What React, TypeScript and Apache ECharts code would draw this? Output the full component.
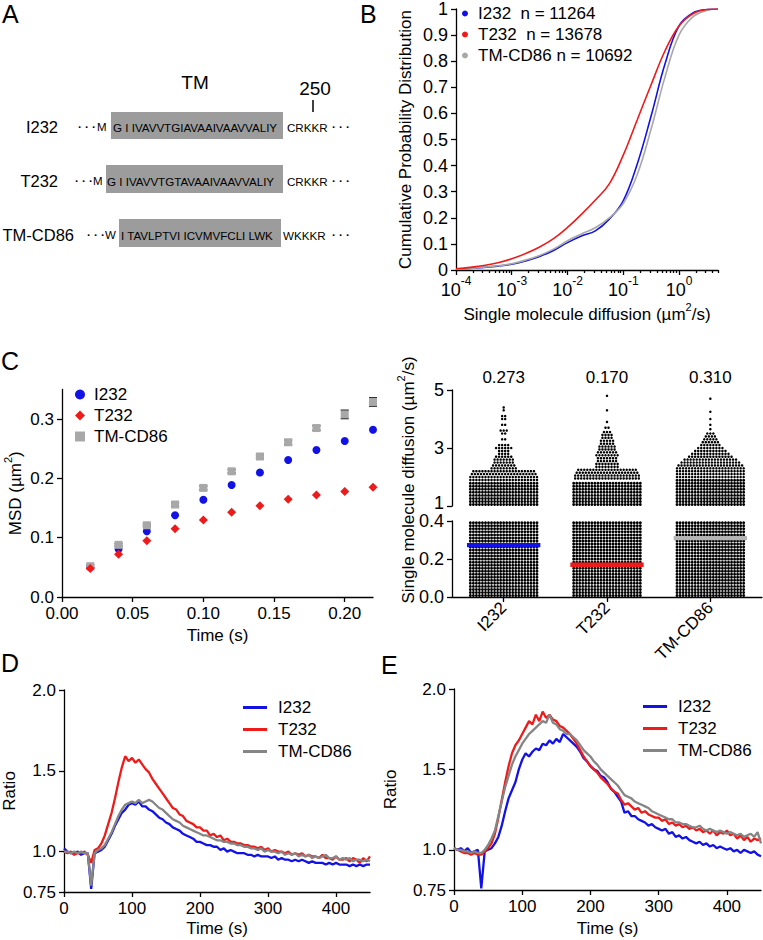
import React, { useEffect, useRef } from 'react';
import * as echarts from 'echarts';

const FONT = "'Liberation Sans', Arial, Helvetica, sans-serif";
const BLUE = '#1212e6';
const RED = '#ee1b1b';
const LGRAY = '#a8a8a8';
const DGRAY = '#858585';

// ---------------- Panel A (sequence alignment) ----------------
const seqLabels = ['I232', 'T232', 'TM-CD86'];
const seqLead = ['M', 'M', 'W'];
const seqTM = ['G I IVAVVTGIAVAAIVAAVVALIY', 'G I IVAVVTGTAVAAIVAAVVALIY', 'I TAVLPTVI ICVMVFCLI LWK'];
const seqTail = ['CRKKR', 'CRKKR', 'WKKKR'];
const seqTitle = 'TM';
const seqMarker = '250';

// ---------------- Panel B (CDF, x in log10 units) ----------------
const cdfLogX = [-4, -3.75, -3.5, -3.25, -3, -2.75, -2.5, -2.25, -2, -1.75, -1.5, -1.25, -1, -0.75, -0.5, -0.25, 0, 0.25, 0.5, 0.7];
const cdfI232 = [0.003, 0.006, 0.01, 0.015, 0.022, 0.035, 0.052, 0.075, 0.105, 0.13, 0.15, 0.195, 0.265, 0.405, 0.59, 0.79, 0.935, 0.985, 0.998, 1.0];
const cdfT232 = [0.005, 0.01, 0.017, 0.028, 0.043, 0.063, 0.088, 0.12, 0.163, 0.213, 0.268, 0.33, 0.44, 0.575, 0.71, 0.84, 0.935, 0.982, 0.998, 1.0];
const cdfCD86 = [0.003, 0.006, 0.011, 0.016, 0.024, 0.038, 0.056, 0.08, 0.112, 0.138, 0.162, 0.2, 0.255, 0.365, 0.54, 0.74, 0.9, 0.97, 0.995, 1.0];
const cdfNames = ['I232  n = 11264', 'T232  n = 13678', 'TM-CD86 n = 10692'];
const cdfDecades = [-4, -3, -2, -1, 0];

// ---------------- Panel C left (MSD) ----------------
const groupNames = ['I232', 'T232', 'TM-CD86'];
const msdTime = [0.02, 0.04, 0.06, 0.08, 0.1, 0.12, 0.14, 0.16, 0.18, 0.2, 0.22];
const msdI232 = [0.05, 0.081, 0.111, 0.138, 0.164, 0.189, 0.21, 0.231, 0.248, 0.263, 0.282];
const msdT232 = [0.048, 0.072, 0.095, 0.115, 0.13, 0.143, 0.154, 0.165, 0.172, 0.178, 0.185];
const msdCD86 = [0.052, 0.088, 0.121, 0.156, 0.184, 0.212, 0.237, 0.261, 0.285, 0.308, 0.329];
const msdCD86Err = [0.002, 0.002, 0.002, 0.003, 0.003, 0.003, 0.003, 0.004, 0.004, 0.007, 0.007];
const msdXTicks = [0, 0.05, 0.1, 0.15, 0.2];
const msdYTicks = [0, 0.1, 0.2, 0.3];

// ---------------- Panel C right (dot plot) ----------------
const swarmMeans = [0.273, 0.17, 0.31];
const swarmUpperTicks = [1, 3, 5];
// dense bands: [from, to, dots across]
const i232LowBands = [[0, 0.4, 23]];
const t232LowBands = [[0, 0.4, 23]];
const cd86LowBands = [[0, 0.4, 23]];
const i232HighBands = [[1.0, 1.8, 23]];
const t232HighBands = [[1.0, 1.85, 23]];
const cd86HighBands = [[1.0, 1.9, 23]];
// sparse rows: [value, dots across]
const i232Rows = [[1.9, 23], [2.0, 23], [2.1, 22], [2.2, 21], [2.3, 9], [2.4, 8], [2.5, 7], [2.6, 7], [2.7, 6], [2.8, 4], [2.9, 4], [3.0, 6], [3.1, 4], [3.3, 2], [3.5, 2], [3.6, 3], [3.8, 2], [4.0, 2], [4.1, 2], [4.3, 1], [4.4, 1]];
const t232Rows = [[1.95, 22], [2.05, 22], [2.15, 21], [2.25, 20], [2.35, 8], [2.45, 8], [2.55, 7], [2.65, 7], [2.75, 8], [2.85, 7], [2.95, 6], [3.05, 6], [3.15, 5], [3.25, 5], [3.35, 4], [3.45, 4], [3.55, 3], [3.7, 2], [3.9, 1], [4.3, 1], [4.8, 1]];
const cd86Rows = [[2.0, 23], [2.1, 23], [2.2, 23], [2.3, 23], [2.4, 22], [2.5, 20], [2.6, 18], [2.7, 15], [2.8, 13], [2.9, 11], [3.0, 9], [3.1, 7], [3.2, 6], [3.3, 5], [3.4, 4], [3.5, 3], [3.65, 1], [3.8, 1], [4.0, 1], [4.25, 1], [4.7, 1]];
const swarmLow = [i232LowBands, t232LowBands, cd86LowBands];
const swarmHigh = [i232HighBands, t232HighBands, cd86HighBands];
const swarmRows = [i232Rows, t232Rows, cd86Rows];

// ---------------- Panels D & E (ratio time courses, 5 s sampling) ----------------
const tsStep = 5;
const dI232 = [
  1.02, 1.0, 0.99, 0.99, 1.0, 0.98, 0.99, 0.99, 0.77, 0.99,
  1.0, 1.01, 1.03, 1.07, 1.11, 1.16, 1.2, 1.24, 1.26, 1.29,
  1.3, 1.29, 1.31, 1.28, 1.28, 1.26, 1.25, 1.23, 1.21, 1.2,
  1.18, 1.17, 1.15, 1.14, 1.13, 1.11, 1.1, 1.09, 1.08, 1.06,
  1.06, 1.05, 1.04, 1.04, 1.03, 1.03, 1.01, 1.02, 1.0, 1.01,
  1.0, 0.99, 0.99, 0.99, 0.98, 0.98, 0.97, 0.98, 0.97, 0.97,
  0.97, 0.96, 0.97, 0.95, 0.96, 0.95, 0.95, 0.94, 0.95, 0.94,
  0.95, 0.94, 0.93, 0.94, 0.93, 0.93, 0.93, 0.92, 0.93, 0.92,
  0.93, 0.92, 0.92, 0.92, 0.91, 0.92, 0.91, 0.92, 0.91, 0.92,
  0.92,
];
const dT232 = [
  1.0, 0.99, 1.0, 0.98, 0.99, 0.99, 1.0, 0.98, 0.93, 1.01,
  1.02, 1.05, 1.1, 1.17, 1.24, 1.33, 1.43, 1.52, 1.59, 1.56,
  1.58, 1.55, 1.57, 1.54, 1.51, 1.49, 1.45, 1.42, 1.39, 1.36,
  1.33, 1.3, 1.27, 1.26, 1.23, 1.22, 1.19, 1.18, 1.17, 1.15,
  1.15, 1.13, 1.13, 1.1, 1.11, 1.09, 1.1, 1.07, 1.08, 1.06,
  1.06, 1.05, 1.05, 1.04, 1.04, 1.03, 1.03, 1.02, 1.03, 1.01,
  1.02, 1.0, 1.01, 1.0, 1.0, 0.99, 1.0, 0.98, 0.99, 0.98,
  0.99, 0.97, 0.98, 0.97, 0.97, 0.96, 0.98, 0.96, 0.96, 0.95,
  0.97, 0.95, 0.95, 0.96, 0.94, 0.96, 0.95, 0.93, 0.96, 0.94,
  0.97,
];
const dCD86 = [
  1.0, 1.0, 0.99, 1.0, 0.99, 1.0, 0.99, 0.99, 0.79, 0.99,
  1.01, 1.02, 1.04, 1.08, 1.12, 1.17, 1.22, 1.26, 1.29, 1.3,
  1.31, 1.3, 1.32, 1.3, 1.31, 1.32, 1.31, 1.29, 1.27, 1.26,
  1.24, 1.22, 1.2, 1.19, 1.18, 1.16, 1.15, 1.14, 1.13, 1.12,
  1.11, 1.1, 1.1, 1.09, 1.08, 1.07, 1.07, 1.06, 1.06, 1.05,
  1.05, 1.04, 1.04, 1.03, 1.03, 1.02, 1.02, 1.01, 1.02, 1.0,
  1.01, 1.0, 1.0, 0.99, 1.0, 0.98, 0.99, 0.98, 0.99, 0.97,
  0.98, 0.97, 0.98, 0.96, 0.97, 0.96, 0.97, 0.98, 0.96, 0.96,
  0.97, 0.95, 0.96, 0.95, 0.96, 0.94, 0.95, 0.95, 0.94, 0.95,
  0.94,
];
const eI232 = [
  1.01, 1.0, 1.01, 0.99, 1.01, 0.98, 0.99, 1.0, 0.76, 0.99,
  1.0, 1.01, 1.04, 1.08, 1.15, 1.24, 1.32, 1.37, 1.42, 1.5,
  1.56, 1.6, 1.58, 1.61, 1.63, 1.62, 1.66, 1.65, 1.68, 1.66,
  1.69, 1.67, 1.72, 1.7, 1.68, 1.66, 1.64, 1.61, 1.57, 1.55,
  1.52, 1.5, 1.49, 1.46, 1.45, 1.42, 1.38, 1.36, 1.33, 1.3,
  1.23, 1.24, 1.21, 1.21, 1.19, 1.18, 1.17, 1.15, 1.16, 1.14,
  1.13, 1.12, 1.13, 1.1, 1.11, 1.08, 1.09, 1.07, 1.08, 1.06,
  1.05, 1.04, 1.05, 1.03, 1.04, 1.02, 1.03, 1.01, 1.02, 1.01,
  1.0, 1.01, 0.99, 1.0, 0.98, 1.0, 0.99, 0.98, 0.99, 0.97,
  0.96,
];
const eT232 = [
  1.01, 1.0, 0.99, 0.98, 0.98, 0.97, 0.98, 0.97, 0.97, 0.99,
  1.01, 1.04, 1.1, 1.2, 1.31, 1.42, 1.52, 1.6, 1.65, 1.68,
  1.72, 1.76, 1.8, 1.78, 1.84, 1.8, 1.86, 1.82, 1.84, 1.81,
  1.8, 1.77, 1.76, 1.74, 1.72, 1.69, 1.66, 1.62, 1.58, 1.55,
  1.52, 1.5, 1.48, 1.45, 1.43, 1.41, 1.38, 1.36, 1.35, 1.31,
  1.28, 1.29, 1.27, 1.25, 1.26, 1.23, 1.24, 1.22, 1.21, 1.2,
  1.2, 1.18, 1.19, 1.16, 1.17, 1.15, 1.16, 1.14, 1.15, 1.13,
  1.14, 1.12, 1.13, 1.11, 1.12, 1.1, 1.12, 1.09, 1.11, 1.1,
  1.12, 1.09, 1.1, 1.07, 1.09, 1.06, 1.08, 1.05, 1.07, 1.06,
  1.07,
];
const eCD86 = [
  1.01, 1.0, 1.0, 0.99, 0.99, 0.98, 0.99, 0.98, 0.98, 1.0,
  1.03, 1.07, 1.12, 1.21, 1.3, 1.39, 1.46, 1.53, 1.58, 1.62,
  1.66, 1.69, 1.72, 1.74, 1.76, 1.78, 1.8, 1.79, 1.84, 1.79,
  1.78, 1.75, 1.74, 1.72, 1.72, 1.7, 1.68, 1.65, 1.62, 1.6,
  1.58, 1.55, 1.53, 1.5, 1.48, 1.46, 1.44, 1.42, 1.4, 1.37,
  1.34, 1.33, 1.32, 1.3, 1.29, 1.28, 1.27, 1.26, 1.24, 1.23,
  1.22, 1.21, 1.2, 1.19, 1.19, 1.17, 1.17, 1.16, 1.16, 1.15,
  1.14, 1.14, 1.15, 1.13, 1.12, 1.13, 1.12, 1.11, 1.12, 1.11,
  1.1, 1.11, 1.1, 1.09, 1.1, 1.08, 1.09, 1.1, 1.08, 1.11,
  1.04,
];
const ratioXTicks = [0, 100, 200, 300, 400];
const ratioYTicks = [0.75, 1.0, 1.5, 2.0];

// ---------------- helpers ----------------
const axisLine = { show: true, onZero: false, lineStyle: { color: '#000', width: 1.3 } };
const tick = (vals?: number[], len = 5) => ({
  show: true,
  length: len,
  lineStyle: { color: '#000', width: 1.3 },
  ...(vals ? { customValues: vals } : {}),
});
const label = (extra: any = {}) => ({ color: '#000', fontSize: 17, fontFamily: FONT, ...extra });
const noSplit = { show: false };
const supRich = {
  a: { fontSize: 17, fontFamily: FONT, color: '#000', lineHeight: 22, verticalAlign: 'bottom' },
  s: { fontSize: 11, fontFamily: FONT, color: '#000', verticalAlign: 'top' },
};
const nameStyle = { fontSize: 17, fontFamily: FONT, color: '#000', rich: supRich };

const txt = (text: string, x: number, y: number, fontSize: number, align = 'left', extra: any = {}) => ({
  type: 'text',
  x,
  y,
  silent: true,
  style: {
    text,
    fontSize,
    fontFamily: FONT,
    fill: '#000',
    align,
    verticalAlign: 'middle',
    textAlign: align,
    textVerticalAlign: 'middle',
    ...extra,
  },
});

function buildGraphic() {
  const els: any[] = [];
  // panel letters
  els.push(txt('A', 2, 14, 25));
  els.push(txt('B', 360, 14, 25));
  els.push(txt('C', 1, 361, 25));
  els.push(txt('D', 1, 663, 25));
  els.push(txt('E', 381, 665, 25));
  // panel A
  const rowY = [127, 181, 235];
  const labelRight = [58, 58, 74];
  const dotsLeft = [78, 75, 87];
  const leadLeft = [97, 93, 105];
  const box = [
    [111, 112, 172, 27],
    [106, 165, 177, 28],
    [119, 219, 162, 28],
  ];
  const seqLeft = [113, 107, 121];
  const tailLeft = [287, 287, 283];
  els.push(txt(seqTitle, 195, 82, 19, 'center'));
  els.push(txt(seqMarker, 315, 88, 19, 'center'));
  els.push({ type: 'line', silent: true, shape: { x1: 313, y1: 100, x2: 313, y2: 112 }, style: { stroke: '#000', lineWidth: 1.5 } });
  seqLabels.forEach((lab, i) => {
    const b = box[i];
    els.push({ type: 'rect', silent: true, shape: { x: b[0], y: b[1], width: b[2], height: b[3] }, style: { fill: '#9c9c9c' } });
    els.push(txt(lab, labelRight[i], rowY[i], 16.5, 'right'));
    els.push(txt('· · ·', dotsLeft[i], rowY[i], 11.5, 'left', { fontWeight: 'bold' }));
    els.push(txt(seqLead[i], leadLeft[i], rowY[i], 11.5));
    els.push(txt(seqTM[i], seqLeft[i], rowY[i], 11.6));
    els.push(txt(seqTail[i], tailLeft[i], rowY[i], 11.6));
    els.push(txt('· · ·', 332, rowY[i], 11.5, 'left', { fontWeight: 'bold' }));
  });
  // panel C right y-axis name (spans the broken axis)
  els.push({
    type: 'text',
    x: 406,
    y: 480,
    rotation: Math.PI / 2,
    silent: true,
    style: {
      text: '{a|Single molecule diffusion (µm}{s|2}{a|/s)}',
      rich: supRich,
      fontFamily: FONT,
      align: 'center',
      verticalAlign: 'middle',
      textAlign: 'center',
      textVerticalAlign: 'middle',
    },
  });
  return els;
}

function swarmRenderer(bands: number[][][], rows: number[][][]) {
  return (params: any, api: any) => {
    const c = params.dataIndex;
    const bandW = api.size([1, 0])[0];
    const step = (bandW * 0.645) / 22;
    const cx = api.coord([c, 0])[0];
    const children: any[] = [];
    const addRow = (py: number, n: number, r: number) => {
      for (let k = 0; k < n; k++) {
        const px = cx + (k - (n - 1) / 2) * step;
        children.push({ type: 'circle', shape: { cx: px, cy: py, r }, style: { fill: '#000' } });
      }
    };
    (bands[c] || []).forEach(([from, to, n]) => {
      const y0 = api.coord([c, from])[1];
      const y1 = api.coord([c, to])[1];
      for (let py = y0 - step / 2; py >= y1 - 0.5; py -= step) addRow(py, n, 1.45);
    });
    (rows[c] || []).forEach(([v, n]) => addRow(api.coord([c, v])[1], n, 1.25));
    return { type: 'group', children };
  };
}

function buildOption() {
  const minorLog: number[] = [];
  cdfDecades.forEach((d) => {
    for (let k = 2; k <= 9; k++) {
      const v = d + Math.log10(k);
      if (v <= 0.7) minorLog.push(v);
    }
  });
  const pair = (xs: number[], ys: number[]) => xs.map((x, i) => [x, ys[i]]);
  const ts = (ys: number[]) => ys.map((y, i) => [i * tsStep, y]);
  const meanColors = [BLUE, RED, '#b4b4b4'];

  const grid = [
    { left: 456, top: 8, width: 262, height: 262 },
    { left: 62, top: 389.5, width: 311, height: 207.5 },
    { left: 452, top: 390, width: 310, height: 116 },
    { left: 452, top: 521, width: 310, height: 76 },
    { left: 63, top: 690, width: 307, height: 202 },
    { left: 454, top: 689, width: 307, height: 201 },
  ];

  const ratioYLabel = label({
    customValues: ratioYTicks,
    formatter: (v: number) => (Math.abs(v - 0.75) < 1e-6 ? '0.75' : v.toFixed(1)),
  });

  // the "1" label of the upper (broken) axis is lifted slightly so it clears "0.4"
  const upperLabelPos = swarmUpperTicks.map((v) => (v === 1 ? 1.12 : v));

  const xAxis: any[] = [
    {
      gridIndex: 0, type: 'value', min: -4, max: 0.7, position: 'bottom',
      axisLine, axisTick: tick(cdfDecades), splitLine: noSplit,
      axisLabel: {
        customValues: cdfDecades,
        margin: 5,
        formatter: (v: number) => `{b|10}{s|${Math.round(v)}}`,
        rich: {
          b: { fontSize: 18, fontFamily: FONT, color: '#000', lineHeight: 24, verticalAlign: 'bottom' },
          s: { fontSize: 12, fontFamily: FONT, color: '#000', verticalAlign: 'top' },
        },
      },
      name: '{a|Single molecule diffusion (µm}{s|2}{a|/s)}',
      nameLocation: 'middle', nameGap: 31, nameTextStyle: nameStyle,
    },
    {
      gridIndex: 0, type: 'value', min: -4, max: 0.7, position: 'bottom',
      axisLine: { show: false, onZero: false }, axisLabel: { show: false }, splitLine: noSplit,
      axisTick: tick(minorLog, 3),
    },
    {
      gridIndex: 1, type: 'value', min: 0, max: 0.22,
      axisLine, axisTick: tick(msdXTicks), splitLine: noSplit,
      axisLabel: label({ customValues: msdXTicks, formatter: (v: number) => v.toFixed(2) }),
      name: 'Time (s)', nameLocation: 'middle', nameGap: 30, nameTextStyle: nameStyle,
    },
    { gridIndex: 2, type: 'category', data: groupNames, show: false },
    {
      gridIndex: 3, type: 'category', data: groupNames,
      axisLine, axisTick: { ...tick(), alignWithLabel: true },
      axisLabel: label({ rotate: 45, margin: 8 }),
    },
    {
      gridIndex: 4, type: 'value', min: 0, max: 450,
      axisLine, axisTick: tick(ratioXTicks), splitLine: noSplit,
      axisLabel: label({ customValues: ratioXTicks }),
      name: 'Time (s)', nameLocation: 'middle', nameGap: 28, nameTextStyle: nameStyle,
    },
    {
      gridIndex: 5, type: 'value', min: 0, max: 450,
      axisLine, axisTick: tick(ratioXTicks), splitLine: noSplit,
      axisLabel: label({ customValues: ratioXTicks }),
      name: 'Time (s)', nameLocation: 'middle', nameGap: 30, nameTextStyle: nameStyle,
    },
  ];

  const yAxis: any[] = [
    {
      gridIndex: 0, type: 'value', min: 0, max: 1, interval: 0.1,
      axisLine, axisTick: tick(), splitLine: noSplit,
      axisLabel: label({ fontSize: 18 }),
      name: 'Cumulative Probability Distribution', nameLocation: 'middle', nameGap: 42, nameTextStyle: nameStyle,
    },
    {
      gridIndex: 1, type: 'value', min: 0, max: 0.35,
      axisLine, axisTick: tick(msdYTicks), splitLine: noSplit,
      axisLabel: label({ customValues: msdYTicks, formatter: (v: number) => v.toFixed(1) }),
      name: '{a|MSD (µm}{s|2}{a|)}', nameLocation: 'middle', nameGap: 38, nameTextStyle: nameStyle,
    },
    {
      gridIndex: 2, type: 'value', min: 1, max: 5,
      axisLine, axisTick: tick(swarmUpperTicks), splitLine: noSplit,
      axisLabel: label({
        customValues: upperLabelPos, fontSize: 18, lineHeight: 14,
        formatter: (v: number) => String(Math.round(v)),
      }),
    },
    {
      gridIndex: 3, type: 'value', min: 0, max: 0.4, interval: 0.2,
      axisLine, axisTick: tick(), splitLine: noSplit,
      axisLabel: label({ fontSize: 18, lineHeight: 14, formatter: (v: number) => v.toFixed(1) }),
    },
    {
      gridIndex: 4, type: 'value', min: 0.75, max: 2.0,
      axisLine, axisTick: tick(ratioYTicks), splitLine: noSplit, axisLabel: ratioYLabel,
      name: 'Ratio', nameLocation: 'middle', nameGap: 46, nameTextStyle: nameStyle,
    },
    {
      gridIndex: 5, type: 'value', min: 0.75, max: 2.0,
      axisLine, axisTick: tick(ratioYTicks), splitLine: noSplit, axisLabel: ratioYLabel,
      name: 'Ratio', nameLocation: 'middle', nameGap: 55, nameTextStyle: nameStyle,
    },
  ];

  const cdfLine = (name: string, ys: number[], color: string) => ({
    type: 'line', name, xAxisIndex: 0, yAxisIndex: 0, data: pair(cdfLogX, ys),
    smooth: 0.4, showSymbol: false, symbol: 'circle',
    itemStyle: { color }, lineStyle: { color, width: 1.6 }, silent: true,
  });
  const msdScatter = (name: string, ys: number[], color: string, symbol: string, size: number) => ({
    type: 'scatter', name, xAxisIndex: 2, yAxisIndex: 1, data: pair(msdTime, ys),
    symbol, symbolSize: size, itemStyle: { color, opacity: 1 }, silent: true,
  });
  const ratioLine = (name: string, ys: number[], color: string, xi: number, yi: number) => ({
    type: 'line', name, xAxisIndex: xi, yAxisIndex: yi, data: ts(ys),
    showSymbol: false, symbol: 'none', itemStyle: { color }, lineStyle: { color, width: 2.3 }, silent: true,
  });

  const series: any[] = [
    cdfLine(cdfNames[0], cdfI232, BLUE),
    cdfLine(cdfNames[2], cdfCD86, LGRAY),
    cdfLine(cdfNames[1], cdfT232, RED),
    {
      type: 'custom', name: 'msd-err', xAxisIndex: 2, yAxisIndex: 1, silent: true,
      data: msdTime.map((t, i) => [t, msdCD86[i], msdCD86Err[i]]),
      renderItem: (params: any, api: any) => {
        const t = api.value(0), v = api.value(1), e = api.value(2);
        const top = api.coord([t, v + e]);
        const bot = api.coord([t, v - e]);
        const st = { stroke: '#222', lineWidth: 1.5 };
        return {
          type: 'group',
          children: [
            { type: 'line', shape: { x1: top[0], y1: top[1], x2: bot[0], y2: bot[1] }, style: st },
            { type: 'line', shape: { x1: top[0] - 4, y1: top[1], x2: top[0] + 4, y2: top[1] }, style: st },
            { type: 'line', shape: { x1: bot[0] - 4, y1: bot[1], x2: bot[0] + 4, y2: bot[1] }, style: st },
          ],
        };
      },
    },
    msdScatter('I232', msdI232, BLUE, 'circle', 8),
    msdScatter('TM-CD86', msdCD86, LGRAY, 'rect', 8),
    msdScatter('T232', msdT232, RED, 'diamond', 9),
    {
      type: 'custom', name: 'swarm-high', xAxisIndex: 3, yAxisIndex: 2, silent: true,
      data: groupNames.map((_, i) => [i, 1]), encode: { x: 0, y: 1 },
      renderItem: swarmRenderer(swarmHigh, swarmRows),
    },
    {
      type: 'custom', name: 'swarm-low', xAxisIndex: 4, yAxisIndex: 3, silent: true,
      data: groupNames.map((_, i) => [i, 0]), encode: { x: 0, y: 1 },
      renderItem: swarmRenderer(swarmLow, []),
    },
    {
      type: 'custom', name: 'swarm-mean', xAxisIndex: 4, yAxisIndex: 3, silent: true, z: 5,
      data: swarmMeans.map((m, i) => [i, m]), encode: { x: 0, y: 1 },
      renderItem: (params: any, api: any) => {
        const i = params.dataIndex;
        const p = api.coord([i, api.value(1)]);
        const w = api.size([1, 0])[0] * 0.71;
        return { type: 'rect', shape: { x: p[0] - w / 2, y: p[1] - 2.2, width: w, height: 4.4 }, style: { fill: meanColors[i] } };
      },
    },
    {
      type: 'custom', name: 'swarm-mean-label', xAxisIndex: 3, yAxisIndex: 2, silent: true,
      data: swarmMeans.map((m, i) => [i, m]), encode: { x: 0 },
      renderItem: (params: any, api: any) => {
        const i = params.dataIndex;
        const p = api.coord([i, 5]);
        return {
          type: 'text', x: p[0], y: p[1] - 13,
          style: {
            text: swarmMeans[i].toFixed(3), fontSize: 17, fontFamily: FONT, fill: '#000',
            align: 'center', verticalAlign: 'middle', textAlign: 'center', textVerticalAlign: 'middle',
          },
        };
      },
    },
    ratioLine('I232', dI232, BLUE, 5, 4),
    ratioLine('T232', dT232, RED, 5, 4),
    ratioLine('TM-CD86', dCD86, DGRAY, 5, 4),
    ratioLine('I232', eI232, BLUE, 6, 5),
    ratioLine('T232', eT232, RED, 6, 5),
    ratioLine('TM-CD86', eCD86, DGRAY, 6, 5),
  ];

  const legendText = { fontSize: 17, fontFamily: FONT, color: '#000' };
  const legend: any[] = [
    {
      orient: 'vertical', left: 462, top: 5, padding: 0, itemGap: 4, itemWidth: 6, itemHeight: 6, selectedMode: false,
      textStyle: { ...legendText, padding: [0, 0, 0, 5] },
      data: [
        { name: cdfNames[0], icon: 'circle', itemStyle: { color: BLUE } },
        { name: cdfNames[1], icon: 'circle', itemStyle: { color: RED } },
        { name: cdfNames[2], icon: 'circle', itemStyle: { color: LGRAY } },
      ],
    },
    {
      orient: 'vertical', left: 75, top: 386, padding: 0, itemGap: 4, itemWidth: 10, itemHeight: 10, selectedMode: false,
      textStyle: { ...legendText, padding: [0, 0, 0, 4] },
      data: [
        { name: 'I232', icon: 'circle', itemStyle: { color: BLUE } },
        { name: 'T232', icon: 'diamond', itemStyle: { color: RED } },
        { name: 'TM-CD86', icon: 'rect', itemStyle: { color: LGRAY } },
      ],
    },
    {
      orient: 'vertical', left: 243, top: 699, padding: 0, itemGap: 5, itemWidth: 24, itemHeight: 3, selectedMode: false,
      textStyle: { ...legendText, padding: [0, 0, 0, 6] },
      data: [
        { name: 'I232', icon: 'rect', itemStyle: { color: BLUE } },
        { name: 'T232', icon: 'rect', itemStyle: { color: RED } },
        { name: 'TM-CD86', icon: 'rect', itemStyle: { color: DGRAY } },
      ],
    },
    {
      orient: 'vertical', left: 643, top: 698, padding: 0, itemGap: 5, itemWidth: 24, itemHeight: 3, selectedMode: false,
      textStyle: { ...legendText, padding: [0, 0, 0, 6] },
      data: [
        { name: 'I232', icon: 'rect', itemStyle: { color: BLUE } },
        { name: 'T232', icon: 'rect', itemStyle: { color: RED } },
        { name: 'TM-CD86', icon: 'rect', itemStyle: { color: DGRAY } },
      ],
    },
  ];

  return {
    animation: false,
    backgroundColor: '#fff',
    textStyle: { fontFamily: FONT, color: '#000' },
    grid,
    xAxis,
    yAxis,
    series,
    legend,
    graphic: { elements: buildGraphic() },
  };
}

export default function App() {
  const ref = useRef<HTMLDivElement>(null);
  useEffect(() => {
    if (!ref.current) return;
    const chart = echarts.init(ref.current, null, { renderer: 'svg' });
    chart.setOption(buildOption() as any);
    return () => chart.dispose();
  }, []);
  return (
    <div
      ref={ref}
      style={{ position: 'absolute', left: 0, top: 0, width: 763, height: 940, background: '#fff' }}
    />
  );
}
